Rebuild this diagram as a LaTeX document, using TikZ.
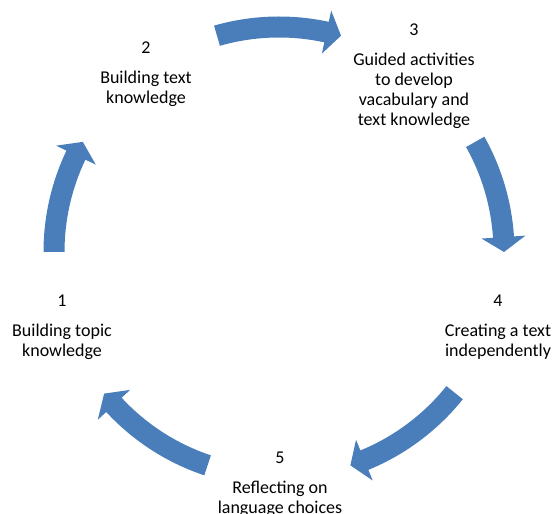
\documentclass[tikz,border=0pt]{standalone}
\usepackage{fontspec}
\setmainfont{Carlito}
\usepackage{tikz}
\definecolor{cycleblue}{HTML}{4A7EBB}

\begin{document}
\begin{tikzpicture}[x=1pt, y=1pt,
        stage/.style={align=center, anchor=north, inner sep=0pt, text=black,
        font=\fontsize{18}{20}\selectfont},
        cyclearrow/.style={fill=cycleblue},]
        \clip (0,0) rectangle (553,513);
        \coordinate (c) at (279,261);

        \node (topic) [stage] at (62,218) {1\\[10pt]Building topic\\knowledge};
        \node (text) [stage] at (146,471.3) {2\\[10pt]Building text\\knowledge};
        \node (guided) [stage] at (414,489.7) {3\\[10pt]Guided activities\\to develop\\vacabulary and\\text knowledge};
        \node (create) [stage] at (498,218) {4\\[10pt]Creating a text\\independently};
        \node (reflect) [stage] at (280,61.5) {5\\[10pt]Reflecting on\\language choices};

        % block arrows round the centre, tail angle / tip angle
        \begin{scope}[shift={(c)}]
            \foreach \a/\b in {180/150.7, 106/74, 29.3/0, -38.7/-71.5, 251.5/219}
            {
                \pgfmathsetmacro{\hb}{\b+3.8}
                \fill[cyclearrow] (\a:235.5pt) arc[start angle=\a, end angle=\hb, radius=235.5pt]
                    -- (\hb:247pt) -- (\b:225pt) -- (\hb:203pt)
                    -- (\hb:214.5pt) arc[start angle=\hb, end angle=\a, radius=214.5pt] -- cycle;
            }
        \end{scope}
\end{tikzpicture}
\end{document}
